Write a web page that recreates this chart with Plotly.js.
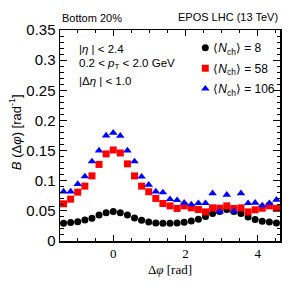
<!DOCTYPE html>
<html>
<head>
<meta charset="utf-8">
<script src="https://cdn.plot.ly/plotly-3.0.1.min.js"></script>
<style>html,body{margin:0;padding:0;background:#fff;}#chart{width:299px;height:288px;}</style>
</head>
<body>
<div id="chart"></div>
<script>
// Δφ bin centres (rad)
const dphi = [-1.374, -1.178, -0.982, -0.785, -0.589, -0.393, -0.196, 0.000, 0.196, 0.393, 0.589, 0.785, 0.982, 1.178, 1.374, 1.571,
              1.767, 1.963, 2.160, 2.356, 2.553, 2.749, 2.945, 3.142, 3.338, 3.534, 3.731, 3.927, 4.123, 4.320, 4.516];
const seriesNames = ["⟨<i>N</i><sub>ch</sub>⟩ = 8", "⟨<i>N</i><sub>ch</sub>⟩ = 58", "⟨<i>N</i><sub>ch</sub>⟩ = 106"];
const nch8 = [0.0295, 0.0306, 0.032, 0.035, 0.0378, 0.0433, 0.0467, 0.0489, 0.0467, 0.043, 0.038, 0.0344, 0.0317, 0.030, 0.0294, 0.0294,
              0.030, 0.031, 0.0333, 0.036, 0.0406, 0.0456, 0.049, 0.0522, 0.049, 0.0456, 0.040, 0.0356, 0.0328, 0.0317, 0.030];
const nch58 = [0.0617, 0.0694, 0.081, 0.091, 0.108, 0.127, 0.1445, 0.151, 0.146, 0.128, 0.108, 0.091, 0.0817, 0.0706, 0.0622, 0.0583,
               0.054, 0.0583, 0.055, 0.0522, 0.0483, 0.055, 0.0544, 0.0583, 0.054, 0.055, 0.0483, 0.0517, 0.0544, 0.0583, 0.054];
const nch106 = [0.082, 0.082, 0.0944, 0.107, 0.132, 0.15, 0.175, 0.1795, 0.1745, 0.15, 0.132, 0.1067, 0.0933, 0.082, 0.0806, 0.0694,
                0.0678, 0.0633, 0.0606, 0.0628, 0.0628, 0.079, 0.0489, 0.0767, 0.0494, 0.079, 0.0628, 0.0633, 0.0589, 0.0628, 0.0683];

const SANS = "Liberation Sans, Arial, sans-serif";
const SERIF = "Liberation Serif, Times New Roman, serif";

const traces = [
  {x: dphi, y: nch8, name: seriesNames[0], legendgroup: "a", mode: "markers", type: "scatter",
   marker: {symbol: "circle", size: 7, color: "#000000"}},
  {x: dphi, y: nch58, name: seriesNames[1], legendgroup: "b", mode: "markers", type: "scatter",
   marker: {symbol: "square", size: 7, color: "#ff0000"}},
  {x: dphi, y: nch106, name: seriesNames[2], legendgroup: "c", mode: "markers", type: "scatter",
   marker: {symbol: "triangle-up", size: 7.5, color: "#0000ff"}}
];

const layout = {
  width: 299, height: 288,
  margin: {l: 60, r: 18.5, t: 29.5, b: 46.5},
  paper_bgcolor: "#ffffff", plot_bgcolor: "#ffffff",
  showlegend: true,
  legend: {x: 0.515, y: 0.985, xanchor: "left", yanchor: "top", bgcolor: "rgba(0,0,0,0)",
           font: {family: SANS, size: 12, color: "#000"}, tracegroupgap: 1.5, itemwidth: 30},
  xaxis: {
    range: [-1.4726, 4.6142], tick0: 0, dtick: 2, ticks: "inside", ticklen: 6, tickwidth: 1, tickcolor: "#000",
    showline: true, linecolor: "#000", linewidth: 1.5, mirror: "allticks", showgrid: false, zeroline: false,
    tickfont: {family: SERIF, size: 13, color: "#000"},
    minor: {dtick: 0.5, tick0: 0, ticks: "inside", ticklen: 3, tickcolor: "#000", showgrid: false},
    title: {text: "Δ<i>φ</i> [rad]", font: {family: SERIF, size: 13, color: "#000"}, standoff: 5}
  },
  yaxis: {
    range: [0, 0.35], tick0: 0, dtick: 0.05, ticks: "inside", ticklen: 7, tickwidth: 1, tickcolor: "#000",
    showline: true, linecolor: "#000", linewidth: 1.5, mirror: "allticks", showgrid: false, zeroline: false,
    tickfont: {family: SANS, size: 15, color: "#000"},
    minor: {dtick: 0.01, tick0: 0, ticks: "inside", ticklen: 3.5, tickcolor: "#000", showgrid: false}
  },
  annotations: [
    {text: "<i>B</i> (Δ<i>φ</i>) [rad<sup>-1</sup>]", xref: "paper", yref: "paper", x: -0.204, y: 0.5165,
     xanchor: "center", yanchor: "middle", textangle: -90, showarrow: false,
     font: {family: SANS, size: 13, color: "#000"}},
    {text: "Bottom 20%", xref: "paper", yref: "paper", x: 0.0, y: 1.059, xanchor: "left", yanchor: "middle",
     showarrow: false, font: {family: SANS, size: 11, color: "#000"}},
    {text: "EPOS LHC (13 TeV)", xref: "paper", yref: "paper", x: 1.0, y: 1.062, xanchor: "right", yanchor: "middle",
     showarrow: false, font: {family: SANS, size: 11, color: "#000"}},
    {text: "|<i>η</i> | < 2.4", xref: "paper", yref: "paper", x: 0.0757, y: 0.911, xanchor: "left", yanchor: "middle",
     showarrow: false, font: {family: SANS, size: 11.5, color: "#000"}},
    {text: "0.2 < <i>p</i><sub>T</sub> < 2.0 GeV", xref: "paper", yref: "paper", x: 0.0757, y: 0.838, xanchor: "left", yanchor: "middle",
     showarrow: false, font: {family: SANS, size: 11.5, color: "#000"}},
    {text: "|Δ<i>η</i> | < 1.0", xref: "paper", yref: "paper", x: 0.0757, y: 0.7585, xanchor: "left", yanchor: "middle",
     showarrow: false, font: {family: SANS, size: 11.5, color: "#000"}}
  ]
};

Plotly.newPlot("chart", traces, layout, {displayModeBar: false, staticPlot: true}).then(function (gd) {
  // move legend symbols closer to their labels, as in the reference
  gd.querySelectorAll(".legendsymbols").forEach(function (g) {
    g.setAttribute("transform", "translate(12,0)");
  });
});
</script>
</body>
</html>
